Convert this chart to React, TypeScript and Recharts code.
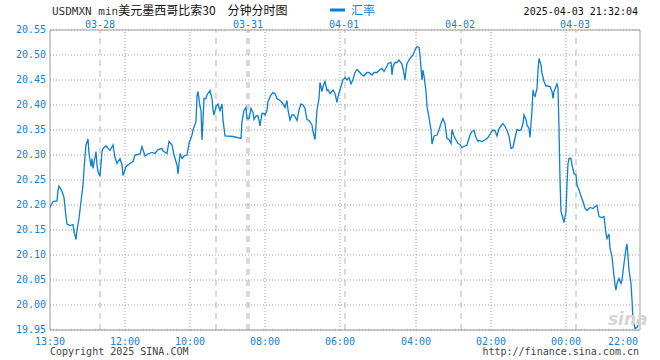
import { LineChart, Line, XAxis, YAxis, CartesianGrid, ReferenceLine } from 'recharts';

// sample slot (0..590 across the 5 sessions) and USD/MXN rate
const slot = [
  0, 3, 7, 8, 9, 12, 14, 16, 17, 20, 23, 24, 26, 27, 29, 31, 33, 34, 35, 36,
  38, 39, 41, 42, 43, 46, 47, 48, 50, 52, 53, 56, 60, 63, 65, 67, 70, 72, 73, 76,
  80, 83, 85, 90, 92, 95, 98, 102, 105, 108, 112, 113, 117, 119, 122, 124, 127, 128, 130, 132,
  134, 137, 139, 142, 143, 146, 147, 148, 150, 151, 152, 153, 154, 156, 157, 160, 162, 163, 164, 166,
  168, 170, 172, 173, 175, 183, 191, 192, 194, 196, 197, 199, 201, 203, 204, 206, 208, 209, 210, 212,
  214, 215, 217, 218, 221, 223, 225, 227, 230, 233, 235, 237, 238, 240, 242, 244, 246, 247, 249, 251,
  253, 255, 257, 259, 262, 263, 265, 266, 267, 269, 270, 272, 273, 275, 277, 278, 280, 283, 285, 287,
  288, 291, 293, 295, 297, 299, 301, 303, 305, 307, 309, 312, 314, 317, 319, 322, 324, 327, 329, 332,
  334, 337, 338, 341, 342, 343, 345, 347, 349, 352, 353, 355, 356, 357, 360, 363, 365, 367, 369, 370,
  372, 373, 374, 376, 377, 379, 381, 382, 384, 387, 389, 391, 393, 395, 397, 399, 401, 402, 404, 406,
  408, 410, 412, 414, 417, 418, 420, 422, 424, 426, 428, 429, 432, 435, 438, 441, 443, 445, 447, 449,
  451, 453, 455, 457, 459, 461, 463, 464, 466, 467, 469, 471, 473, 474, 476, 477, 479, 480, 482, 483,
  484, 485, 487, 488, 489, 491, 492, 494, 496, 498, 500, 502, 503, 504, 506, 507, 508, 509, 510, 511,
  513, 514, 516, 517, 518, 519, 521, 522, 524, 526, 527, 529, 531, 533, 535, 537, 540, 543, 545, 547,
  549, 552, 554, 556, 557, 559, 560, 562, 563, 565, 566, 567, 569, 571, 572, 574, 576, 577, 578, 579,
  581, 582, 583, 585, 587, 588,
];

const rate = [
  20.195, 20.207, 20.208, 20.229, 20.238, 20.227, 20.215, 20.177, 20.162, 20.159, 20.161, 20.147, 20.131, 20.15, 20.173, 20.207, 20.24, 20.27, 20.297, 20.32,
  20.332, 20.303, 20.277, 20.293, 20.273, 20.307, 20.28, 20.267, 20.257, 20.307, 20.313, 20.318, 20.309, 20.32, 20.295, 20.283, 20.293, 20.28, 20.259, 20.277,
  20.283, 20.287, 20.3, 20.302, 20.317, 20.298, 20.302, 20.305, 20.303, 20.311, 20.313, 20.308, 20.303, 20.327, 20.32, 20.3, 20.28, 20.262, 20.303, 20.293,
  20.298, 20.3, 20.323, 20.34, 20.35, 20.367, 20.417, 20.427, 20.397, 20.39, 20.33, 20.37, 20.413, 20.413, 20.42, 20.429, 20.413, 20.39, 20.38, 20.397,
  20.402, 20.389, 20.402, 20.37, 20.338, 20.337, 20.333, 20.367, 20.389, 20.395, 20.373, 20.373, 20.393, 20.385, 20.371, 20.378, 20.378, 20.369, 20.358, 20.383,
  20.383, 20.38, 20.39, 20.407, 20.42, 20.425, 20.423, 20.413, 20.409, 20.402, 20.395, 20.409, 20.39, 20.37, 20.38, 20.38, 20.373, 20.369, 20.39, 20.402,
  20.4, 20.393, 20.371, 20.369, 20.36, 20.347, 20.331, 20.36, 20.39, 20.413, 20.445, 20.427, 20.437, 20.447, 20.429, 20.431, 20.423, 20.43, 20.423, 20.405,
  20.417, 20.437, 20.451, 20.455, 20.45, 20.455, 20.442, 20.451, 20.465, 20.471, 20.467, 20.46, 20.458, 20.465, 20.465, 20.46, 20.465, 20.465, 20.469, 20.473,
  20.467, 20.478, 20.483, 20.485, 20.46, 20.477, 20.485, 20.485, 20.49, 20.482, 20.473, 20.45, 20.47, 20.483, 20.493, 20.5, 20.51, 20.517, 20.515, 20.5,
  20.45, 20.47, 20.458, 20.427, 20.397, 20.375, 20.35, 20.322, 20.338, 20.34, 20.35, 20.363, 20.373, 20.362, 20.333, 20.331, 20.323, 20.351, 20.338, 20.33,
  20.323, 20.321, 20.315, 20.317, 20.32, 20.327, 20.34, 20.347, 20.349, 20.335, 20.327, 20.329, 20.327, 20.33, 20.335, 20.345, 20.35, 20.349, 20.338, 20.353,
  20.358, 20.363, 20.357, 20.349, 20.338, 20.313, 20.315, 20.325, 20.343, 20.351, 20.349, 20.35, 20.363, 20.38, 20.371, 20.36, 20.353, 20.335, 20.39, 20.43,
  20.42, 20.417, 20.433, 20.47, 20.493, 20.48, 20.463, 20.447, 20.438, 20.438, 20.437, 20.427, 20.413, 20.427, 20.437, 20.442, 20.433, 20.353, 20.25, 20.187,
  20.173, 20.165, 20.187, 20.243, 20.283, 20.293, 20.293, 20.28, 20.263, 20.26, 20.24, 20.23, 20.218, 20.207, 20.193, 20.189, 20.195, 20.193, 20.197, 20.199,
  20.177, 20.175, 20.177, 20.143, 20.133, 20.142, 20.113, 20.097, 20.077, 20.04, 20.03, 20.043, 20.053, 20.043, 20.05, 20.083, 20.113, 20.122, 20.097, 20.07,
  20.043, 20.01, 19.97, 19.953, 19.955, 19.96,
];

const rateTicks = [19.95, 20.0, 20.05, 20.1, 20.15, 20.2, 20.25, 20.3, 20.35, 20.4, 20.45, 20.5, 20.55];

const timeSlots = [0, 75, 140, 215, 290, 366, 441, 516, 590];
const timeLabels = ['13:30', '12:00', '10:00', '08:00', '06:00', '04:00', '02:00', '00:00', '22:00'];
const hourLines = [75, 140, 215, 290, 366, 441, 516];

const daySlots = [50, 198, 294, 410, 525];
const dayLabels = ['03-28', '03-31', '04-01', '04-02', '04-03'];
const dayLines = [50, 166, 197, 199, 295, 411, 526];

const data = slot.map((s, i) => ({ slot: s, rate: rate[i] }));

const BLUE = '#0b7fd2';
const LABEL = '#1482d6';
const MONO = '"DejaVu Sans Mono", monospace';
const CJK = '"Noto Sans CJK SC", sans-serif';

const BottomTick = (props: any) => {
  const { x, y, payload } = props;
  const i = timeSlots.indexOf(payload.value);
  const last = i === timeSlots.length - 1;
  return (
    <text x={last ? x - 2 : x} y={y} dy={7} textAnchor={last ? 'end' : 'middle'} fill={LABEL} fontSize={10} fontFamily={MONO}>
      {timeLabels[i]}
    </text>
  );
};

const TopTick = (props: any) => {
  const { x, y, payload } = props;
  const i = daySlots.indexOf(payload.value);
  return (
    <text x={x} y={y} textAnchor="middle" fill={LABEL} fontSize={10} fontFamily={MONO}>
      {dayLabels[i]}
    </text>
  );
};

const LeftTick = (props: any) => {
  const { x, y, payload } = props;
  return (
    <text x={x} y={y} dy={3.2} textAnchor="end" fill={LABEL} fontSize={10} fontFamily={MONO}>
      {Number(payload.value).toFixed(2)}
    </text>
  );
};

export default function App() {
  return (
    <div style={{ position: 'absolute', left: 0, top: 0, width: 660, height: 360, background: '#fff' }}>
      <LineChart width={660} height={360} data={data} margin={{ top: 0, right: 20, bottom: 0, left: 0 }}>
        <CartesianGrid vertical={false} stroke="#a0a0a0" strokeDasharray="1 2" />
        <XAxis
          dataKey="slot"
          type="number"
          domain={[0, 590]}
          ticks={timeSlots}
          interval={0}
          height={30}
          axisLine={false}
          tickLine={false}
          tickSize={0}
          tickMargin={8}
          tick={<BottomTick />}
          allowDataOverflow
        />
        <XAxis
          xAxisId="top"
          orientation="top"
          dataKey="slot"
          type="number"
          domain={[0, 590]}
          ticks={daySlots}
          interval={0}
          height={30}
          axisLine={false}
          tickLine={false}
          tickSize={0}
          tickMargin={2}
          tick={<TopTick />}
          allowDataOverflow
        />
        <YAxis
          type="number"
          domain={[19.95, 20.55]}
          ticks={rateTicks}
          interval={0}
          width={50}
          axisLine={false}
          tickLine={false}
          tickSize={0}
          tickMargin={4}
          tick={<LeftTick />}
          allowDataOverflow
        />
        {hourLines.map((h) => (
          <ReferenceLine key={'h' + h} x={h} stroke="#a0a0a0" strokeDasharray="1 2" />
        ))}
        {dayLines.map((d) => (
          <ReferenceLine key={'d' + d} x={d} stroke="#b4b4b4" strokeDasharray="6 5" />
        ))}
        <ReferenceLine y={20.55} stroke="#a0a0a0" />
        <ReferenceLine y={19.95} stroke="#999" />
        <ReferenceLine x={0} stroke="#999" />
        <ReferenceLine x={590} stroke="#a0a0a0" />
        <Line
          type="linear"
          dataKey="rate"
          stroke={BLUE}
          strokeWidth={1.3}
          dot={false}
          activeDot={false}
          isAnimationActive={false}
        />
      </LineChart>
      <svg width={660} height={360} style={{ position: 'absolute', left: 0, top: 0, pointerEvents: 'none' }}>
        <text x={52} y={15}>
          <tspan fontFamily={MONO} fontSize={11} fill="#333">USDMXN min</tspan>
          <tspan fontFamily={CJK} fontSize={12} fill="#111">美元墨西哥比索30</tspan>
          <tspan dx={12} fontFamily={CJK} fontSize={12} fill="#111">分钟分时图</tspan>
        </text>
        <rect x={330} y={8.5} width={15} height={3} fill={BLUE} />
        <text x={351} y={15} fontFamily={CJK} fontSize={12} fill={LABEL}>汇率</text>
        <text x={638} y={15} textAnchor="end" fontFamily={MONO} fontSize={10} fill="#111">2025-04-03 21:32:04</text>
        <text x={608} y={325} fontFamily='"DejaVu Sans", sans-serif' fontSize={17} fontWeight="bold" fontStyle="italic" fill="#d4d4d4">sina</text>
        <text x={50} y={355} fontFamily={MONO} fontSize={10} fill="#444">Copyright 2025 SINA.COM</text>
        <text x={639} y={355} textAnchor="end" fontFamily={MONO} fontSize={10} fill="#444">http://finance.sina.com.cn</text>
      </svg>
    </div>
  );
}
